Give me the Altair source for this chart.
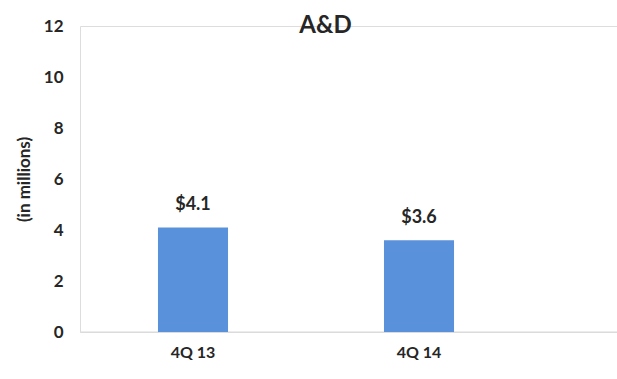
import altair as alt
import pandas as pd

categories = ["4Q 13", "4Q 14"]
values = [4.1, 3.6]
value_labels = ["$4.1", "$3.6"]

df = pd.DataFrame({"cat": categories, "val": values, "lbl": value_labels})

FONT = "Lato"
TXT = "#262626"

base = alt.Chart(df).encode(
    x=alt.X("cat:N", sort=categories,
            scale=alt.Scale(paddingInner=0.69, paddingOuter=0.345, range=[0, 452]),
            axis=alt.Axis(title=None, labelAngle=0, ticks=False, domain=False,
                          labelFont=FONT, labelFontSize=16, labelFontWeight="bold",
                          labelColor=TXT, labelPadding=12))
)

baseline = alt.Chart(pd.DataFrame({"y": [0]})).mark_rule(
    color="#D9D9D9", strokeWidth=1
).encode(y="y:Q", x=alt.value(0), x2=alt.value(537))

bars = base.mark_bar(color="#5A91DB").encode(
    y=alt.Y("val:Q", scale=alt.Scale(domain=[0, 12], nice=False),
            axis=alt.Axis(title="(in millions)", values=[0, 2, 4, 6, 8, 10, 12],
                          grid=False, ticks=False, domain=False,
                          labelFont=FONT, labelFontSize=17, labelFontWeight="bold",
                          labelColor=TXT, labelPadding=17,
                          titleFont=FONT, titleFontSize=17, titleFontWeight="bold",
                          titleColor=TXT, titlePadding=10))
)

labels = base.mark_text(baseline="bottom", dy=-13, font=FONT, fontSize=18,
                        fontWeight="bold", color=TXT).encode(
    y=alt.Y("val:Q"), text="lbl:N"
)

chart = (baseline + bars + labels).properties(
    width=537, height=306,
    title=alt.TitleParams("A&D", font=FONT, fontSize=24, fontWeight="bold",
                          color=TXT, anchor="middle", dx=-23, dy=3, offset=-18),
    autosize=alt.AutoSizeParams(type="none"),
    padding={"left": 80, "top": 26, "right": 0, "bottom": 47},
).configure_view(stroke=None).configure(background="white")

chart.save("out.html", embed_options={"renderer": "svg", "actions": False})
